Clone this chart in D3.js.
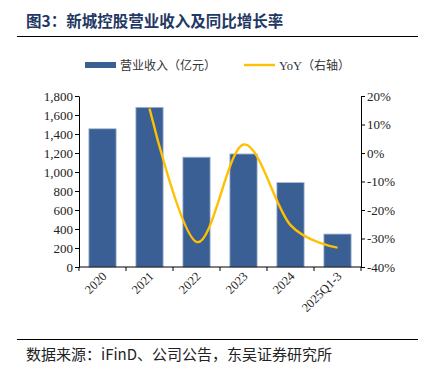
<!DOCTYPE html>
<html>
<head>
<meta charset="utf-8">
<script src="https://cdn.jsdelivr.net/npm/d3@7"></script>
<style>
body { margin: 0; background: #fff; }
svg { display: block; }
</style>
</head>
<body>
<div id="chart"></div>
<script>
var categories = ['2020', '2021', '2022', '2023', '2024', '2025Q1-3'];
var revenue = [1455, 1681, 1156, 1190, 889, 347];
var yoy = [null, 15.6, -31.2, 3.0, -25.3, -33.2];
var left_ticks = [0, 200, 400, 600, 800, 1000, 1200, 1400, 1600, 1800];
var right_ticks = [-40, -30, -20, -10, 0, 10, 20];

var width = 424;
var height = 375;
var serif = '"Liberation Serif", "Times New Roman", serif';
var cjk = '"Noto Sans CJK SC", sans-serif';

var svg = d3.select('#chart')
    .append('svg')
    .attr('width', width)
    .attr('height', height);

// title
svg.append('text')
    .attr('x', 26)
    .attr('y', 27)
    .attr('fill', '#1f3864')
    .attr('font-family', cjk)
    .attr('font-weight', 'bold')
    .attr('font-size', 15.5)
    .text('图3：新城控股营业收入及同比增长率');

svg.append('line')
    .attr('x1', 17).attr('x2', 418)
    .attr('y1', 36.5).attr('y2', 36.5)
    .attr('stroke', '#000')
    .attr('stroke-width', 1.2);

// scales
var x_scale = d3.scaleBand()
    .domain(categories)
    .range([79, 361])
    .paddingInner(0.42)
    .paddingOuter(0.21);

var y_scale = d3.scaleLinear()
    .domain([0, 1800])
    .range([267, 96]);

var y2_scale = d3.scaleLinear()
    .domain([-40, 20])
    .range([267, 96]);

// bars
svg.selectAll('.bar')
    .data(categories)
    .enter()
    .append('rect')
    .attr('class', 'bar')
    .attr('x', function(d) { return x_scale(d); })
    .attr('width', x_scale.bandwidth())
    .attr('y', function(d, i) { return y_scale(revenue[i]); })
    .attr('height', function(d, i) { return y_scale(0) - y_scale(revenue[i]); })
    .attr('fill', '#3a5f94')
    .attr('stroke', '#a9bcd6')
    .attr('stroke-width', 0.8);

// axes
var x_axis = d3.axisBottom(x_scale)
    .tickSize(0)
    .tickFormat('');

var gx = svg.append('g')
    .attr('transform', 'translate(0,267)')
    .call(x_axis);
gx.select('.domain').attr('stroke', '#000').attr('d', 'M79,0H361');

// ticks at band boundaries
var step = x_scale.step();
var bounds = d3.range(categories.length + 1).map(function(i) {
    return x_scale(categories[0]) - x_scale.paddingInner() * step / 2 + i * step;
});
gx.selectAll('.bnd')
    .data(bounds)
    .enter()
    .append('line')
    .attr('x1', function(d) { return d; })
    .attr('x2', function(d) { return d; })
    .attr('y1', 0).attr('y2', 4)
    .attr('stroke', '#000');

svg.selectAll('.xlab')
    .data(categories)
    .enter()
    .append('text')
    .attr('class', 'xlab')
    .attr('transform', function(d) {
        return 'translate(' + (x_scale(d) + x_scale.bandwidth() / 2 + 5) + ',277) rotate(-45)';
    })
    .attr('text-anchor', 'end')
    .attr('font-family', serif)
    .attr('font-size', 12.5)
    .attr('fill', '#222')
    .text(function(d) { return d; });

var y_axis = d3.axisLeft(y_scale)
    .tickValues(left_ticks)
    .tickSize(4)
    .tickSizeOuter(0)
    .tickFormat(d3.format(','));

var gy = svg.append('g')
    .attr('transform', 'translate(79,0)')
    .call(y_axis);

var y2_axis = d3.axisRight(y2_scale)
    .tickValues(right_ticks)
    .tickSize(4)
    .tickSizeOuter(0)
    .tickFormat(function(d) { return d + '%'; });

var gy2 = svg.append('g')
    .attr('transform', 'translate(361,0)')
    .call(y2_axis);

[gy, gy2].forEach(function(g) {
    g.selectAll('text')
        .attr('font-family', serif)
        .attr('font-size', 13)
        .attr('fill', '#222');
    g.selectAll('line, .domain').attr('stroke', '#000');
});
gy.selectAll('text').attr('x', -6);
gy2.selectAll('text').attr('x', 6);

// yoy line
var line = d3.line()
    .defined(function(d) { return d.v !== null; })
    .x(function(d) { return x_scale(d.c) + x_scale.bandwidth() / 2; })
    .y(function(d) { return y2_scale(d.v); })
    .curve(d3.curveCardinal.tension(0));

var yoy_data = categories.map(function(c, i) { return {c: c, v: yoy[i]}; })
    .filter(function(d) { return d.v !== null; });

svg.append('path')
    .datum(yoy_data)
    .attr('d', line)
    .attr('fill', 'none')
    .attr('stroke', '#ffc000')
    .attr('stroke-width', 2.4);

// legend
var legend = svg.append('g');
legend.append('rect')
    .attr('x', 85).attr('y', 62)
    .attr('width', 31).attr('height', 6)
    .attr('fill', '#3a5f94');
legend.append('text')
    .attr('x', 120).attr('y', 69.5)
    .attr('font-family', cjk)
    .attr('font-size', 12)
    .attr('fill', '#333')
    .text('营业收入（亿元）');
legend.append('line')
    .attr('x1', 244).attr('x2', 275)
    .attr('y1', 65).attr('y2', 65)
    .attr('stroke', '#ffc000')
    .attr('stroke-width', 2.4);
legend.append('text')
    .attr('x', 279).attr('y', 69.5)
    .attr('font-family', serif)
    .attr('font-size', 12.5)
    .attr('fill', '#333')
    .text('YoY')
    .append('tspan')
    .attr('font-family', cjk)
    .attr('font-size', 12)
    .text('（右轴）');

// footer
svg.append('line')
    .attr('x1', 17).attr('x2', 418)
    .attr('y1', 339.5).attr('y2', 339.5)
    .attr('stroke', '#000')
    .attr('stroke-width', 1.2);

svg.append('text')
    .attr('x', 26)
    .attr('y', 360)
    .attr('font-family', cjk)
    .attr('font-size', 15)
    .attr('fill', '#222')
    .text('数据来源：iFinD、公司公告，东吴证券研究所');
</script>
</body>
</html>
